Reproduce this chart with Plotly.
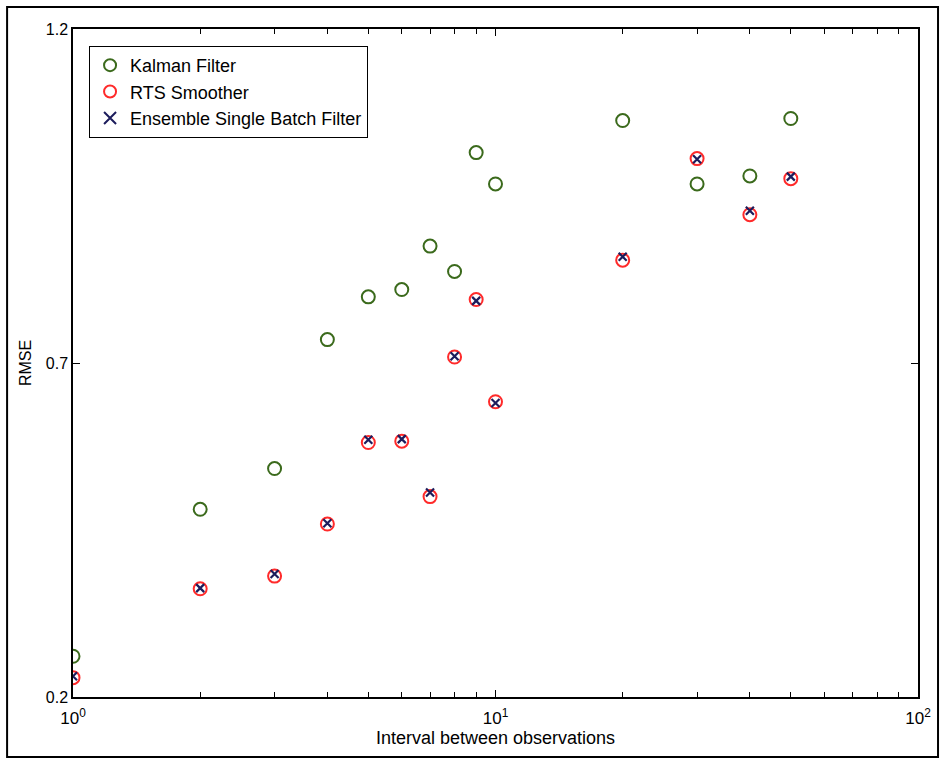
import plotly.graph_objects as go

# Observation intervals (log-scaled x axis)
intervals = [1, 2, 3, 4, 5, 6, 7, 8, 9, 10, 20, 30, 40, 50]

# RMSE for each method
kalman_rmse = [0.261, 0.481, 0.542, 0.735, 0.799, 0.810, 0.875, 0.837,
               1.015, 0.968, 1.063, 0.968, 0.980, 1.066]
rts_rmse = [0.229, 0.362, 0.381, 0.459, 0.581, 0.583, 0.500, 0.709,
            0.795, 0.642, 0.854, 1.006, 0.922, 0.976]
ensemble_rmse = [0.231, 0.363, 0.384, 0.460, 0.585, 0.586, 0.506, 0.710,
                 0.793, 0.640, 0.859, 1.005, 0.928, 0.979]

x_major = [1, 10, 100]
x_major_text = ["10<sup>0</sup>", "10<sup>1</sup>", "10<sup>2</sup>"]
x_minor = [2, 3, 4, 5, 6, 7, 8, 9, 20, 30, 40, 50, 60, 70, 80, 90]
y_ticks = [0.2, 0.7, 1.2]
y_tick_text = ["0.2", "0.7", "1.2"]

GREEN = "#3b6a1c"
RED = "#ff2a2a"
NAVY = "#1c1c5c"
FONT = "Liberation Sans, Arial, sans-serif"

fig = go.Figure()
fig.add_trace(go.Scatter(
    x=intervals, y=kalman_rmse, mode="markers", name="Kalman Filter",
    marker=dict(symbol="circle-open", size=13, color=GREEN, line=dict(width=2, color=GREEN)),
))
fig.add_trace(go.Scatter(
    x=intervals, y=rts_rmse, mode="markers", name="RTS Smoother",
    marker=dict(symbol="circle-open", size=13, color=RED, line=dict(width=2, color=RED)),
))
fig.add_trace(go.Scatter(
    x=intervals, y=ensemble_rmse, mode="markers", name="Ensemble Single Batch Filter",
    marker=dict(symbol="x-thin-open", size=8, color=NAVY, line=dict(width=2.2, color=NAVY)),
))

axis_common = dict(
    showline=True, linecolor="black", linewidth=1.5, mirror="ticks",
    ticks="inside", tickcolor="black", ticklen=7, tickwidth=1,
    showgrid=False, zeroline=False,
)

fig.update_xaxes(
    type="log", range=[0, 2],
    tickvals=x_major, ticktext=x_major_text,
    tickfont=dict(family=FONT, size=17, color="black"),
    ticklabelstandoff=5,
    minor=dict(tickvals=x_minor, ticks="inside", ticklen=5, tickcolor="black", showgrid=False),
    title=dict(text="Interval between observations", font=dict(family=FONT, size=18, color="black"), standoff=4),
    **axis_common,
)
fig.update_yaxes(
    range=[0.2, 1.2], tickvals=y_ticks, ticktext=y_tick_text,
    tickfont=dict(family=FONT, size=16, color="black"),
    title=dict(text="RMSE", font=dict(family=FONT, size=16, color="black"), standoff=10),
    **axis_common,
)

# Outer frame around the whole figure
fig.add_shape(type="rect", xref="paper", yref="paper",
              x0=-0.078, x1=1.0237, y0=-0.0898, y1=1.0329,
              line=dict(color="black", width=2), fillcolor="rgba(0,0,0,0)", layer="below")

fig.update_layout(
    width=942, height=761,
    margin=dict(l=73, r=24, t=29, b=64),
    paper_bgcolor="white", plot_bgcolor="white",
    font=dict(family=FONT, size=16, color="black"),
    showlegend=True,
    legend=dict(
        x=0.019, y=0.9746, xanchor="left", yanchor="top",
        bgcolor="white", bordercolor="black", borderwidth=1,
        font=dict(family=FONT, size=18, color="black"),
        tracegroupgap=0, itemsizing="constant",
        entrywidth=255, entrywidthmode="pixels",
    ),
)

fig.write_html("out.html")
